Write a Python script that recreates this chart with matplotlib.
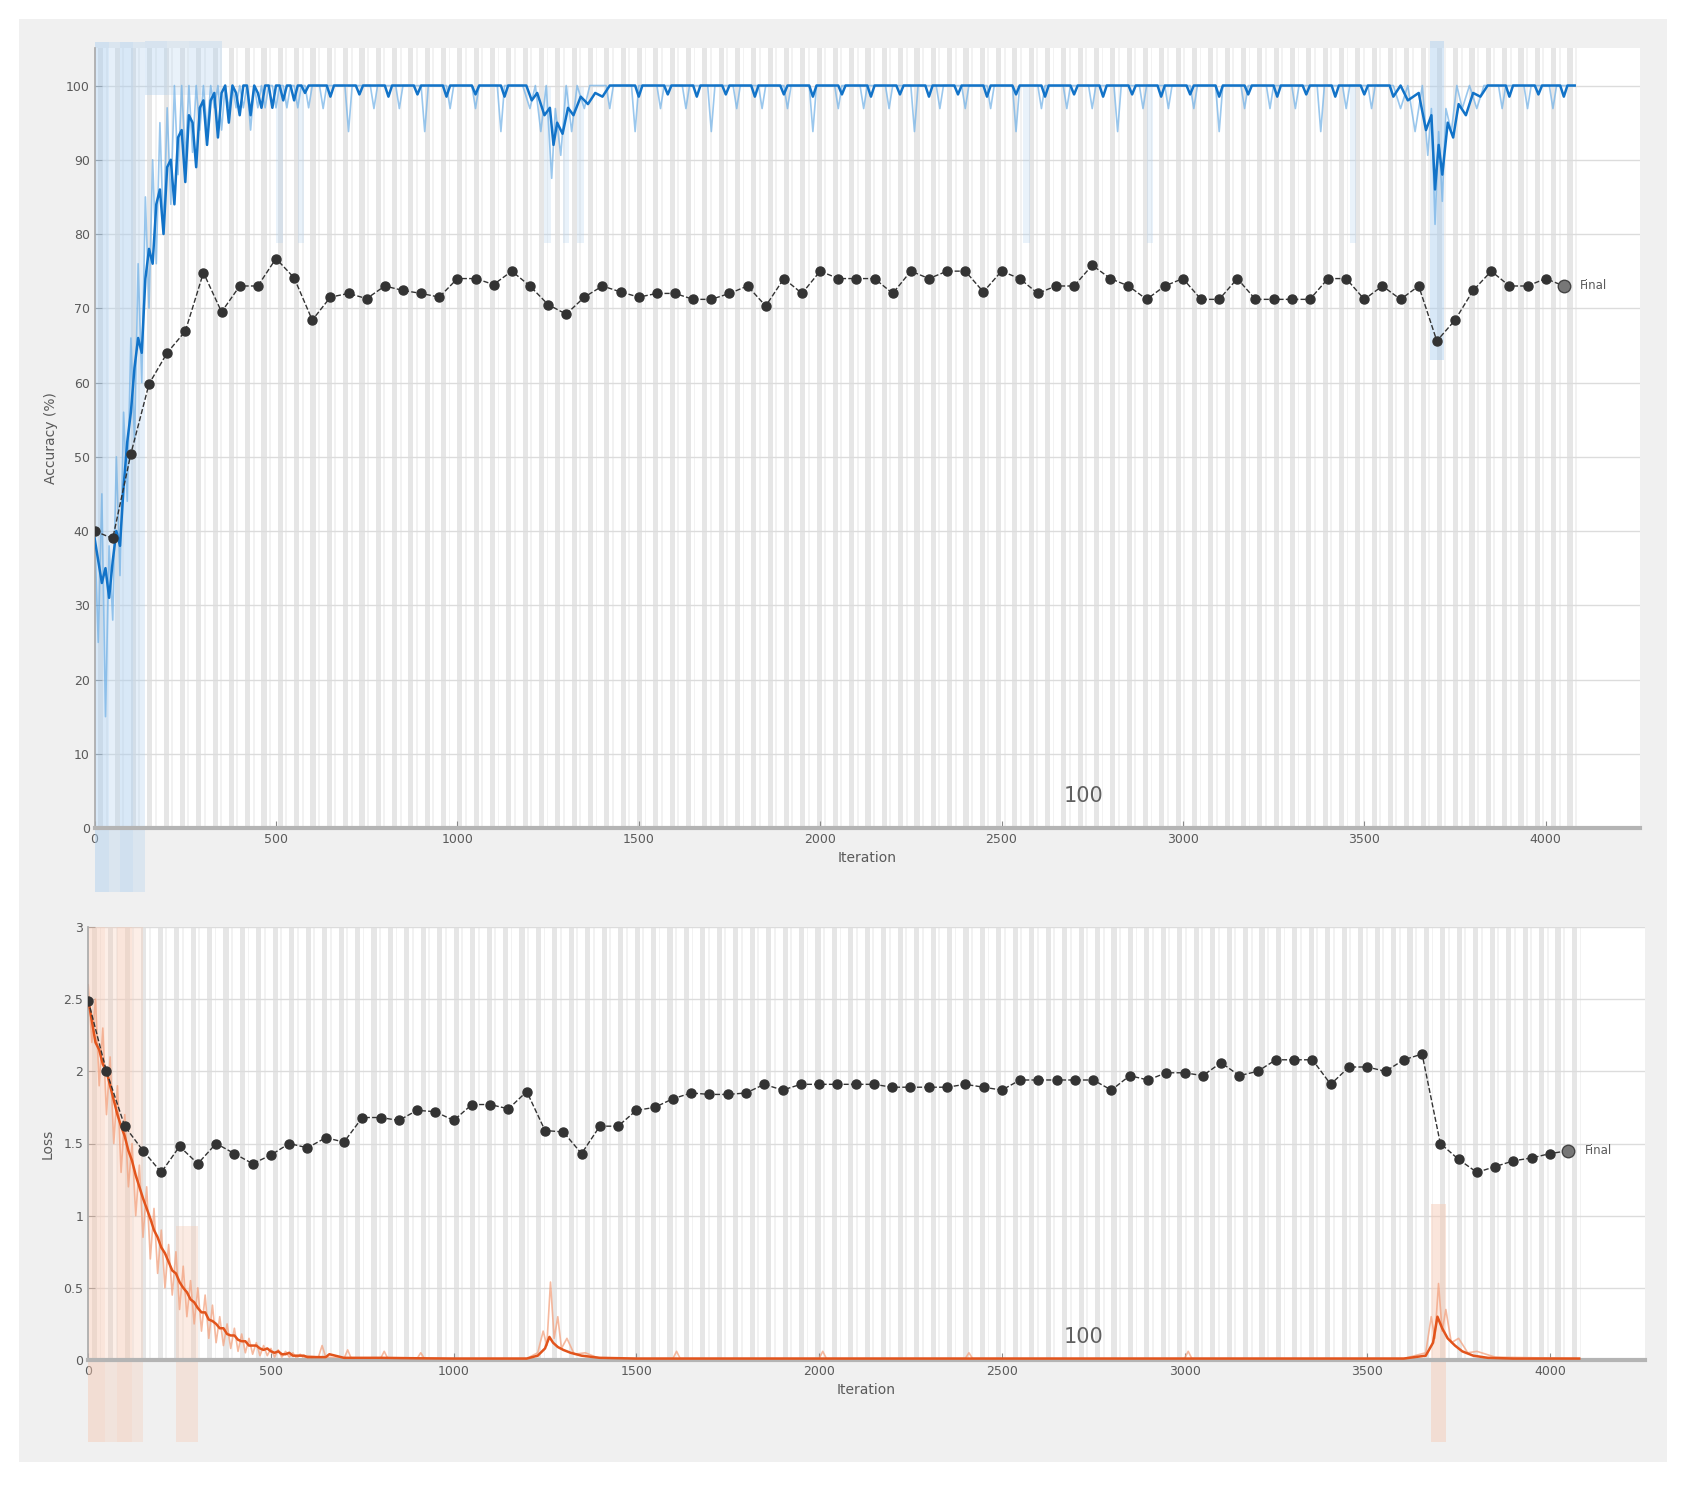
import numpy as np
import matplotlib
matplotlib.use("Agg")
import matplotlib.pyplot as plt
from matplotlib.patches import Rectangle
import matplotlib.transforms as mtransforms

# ---------------- data ----------------
val_step = 50
val_acc = [40, 39, 50.4, 59.8, 64, 66.9, 74.8, 69.5, 73, 73, 76.7, 74.1, 68.4, 71.5, 72, 71.3,
           73, 72.4, 72, 71.5, 74, 74, 73.2, 75, 73, 70.5, 69.2, 71.5, 73, 72.2, 71.5, 72,
           72, 71.2, 71.2, 72, 73, 70.3, 74, 72, 75, 74, 74, 74, 72, 75, 74, 75, 75, 72.2,
           75, 74, 72, 73, 73, 75.8, 74, 73, 71.2, 73, 74, 71.2, 71.2, 74, 71.2, 71.2, 71.2,
           71.2, 74, 74, 71.2, 73, 71.2, 73, 65.6, 68.4, 72.4, 75, 73, 73, 74, 73]
val_loss = [2.49, 2.0, 1.62, 1.45, 1.30, 1.48, 1.36, 1.50, 1.43, 1.36, 1.42, 1.50, 1.47, 1.54,
            1.51, 1.68, 1.68, 1.66, 1.73, 1.72, 1.66, 1.77, 1.77, 1.74, 1.86, 1.59, 1.58, 1.43,
            1.62, 1.62, 1.73, 1.75, 1.81, 1.85, 1.84, 1.84, 1.85, 1.91, 1.87, 1.91, 1.91, 1.91,
            1.91, 1.91, 1.89, 1.89, 1.89, 1.89, 1.91, 1.89, 1.87, 1.94, 1.94, 1.94, 1.94, 1.94,
            1.87, 1.97, 1.94, 1.99, 1.99, 1.97, 2.06, 1.97, 2.0, 2.08, 2.08, 2.08, 1.91, 2.03,
            2.03, 2.0, 2.08, 2.12, 1.50, 1.39, 1.30, 1.34, 1.38, 1.40, 1.43, 1.45]

# early training phase, sampled every 10 iterations (0..600)
early_step = 10
acc_smooth_early = [39, 36, 33, 35, 31, 36, 40, 38, 46, 52, 56, 62, 66, 64, 74, 78, 76, 84, 86, 80,
                    89, 90, 84, 93, 94, 87, 96, 95, 89, 97, 98, 92, 98, 99, 93, 99, 100, 95, 100, 99,
                    96, 100, 100, 96, 100, 99, 97, 100, 100, 97, 100, 100, 98, 100, 100, 98, 100, 100,
                    99, 100, 100]
acc_raw_early = [40, 25, 45, 15, 38, 28, 50, 34, 56, 44, 66, 52, 76, 60, 85, 70, 90, 76, 95, 80,
                 97, 84, 100, 88, 100, 90, 100, 91, 100, 94, 100, 94, 100, 97, 100, 94, 100, 97, 100, 97,
                 100, 97, 100, 94, 100, 97, 100, 97, 100, 100, 97, 100, 100, 97, 100, 100, 97, 100, 100,
                 97, 100]
loss_smooth_early = [2.5, 2.35, 2.2, 2.15, 2.05, 2.0, 1.9, 1.8, 1.7, 1.62, 1.55, 1.45, 1.38, 1.28,
                     1.2, 1.12, 1.05, 0.98, 0.9, 0.85, 0.78, 0.74, 0.68, 0.62, 0.6, 0.54, 0.5, 0.47,
                     0.42, 0.4, 0.36, 0.33, 0.33, 0.28, 0.27, 0.25, 0.22, 0.22, 0.18, 0.17, 0.17,
                     0.14, 0.13, 0.13, 0.1, 0.1, 0.1, 0.08, 0.07, 0.08, 0.06, 0.05, 0.06, 0.04, 0.04,
                     0.05, 0.03, 0.03, 0.03, 0.03, 0.02]
loss_raw_early = [2.6, 2.2, 2.5, 1.9, 2.3, 1.7, 2.1, 1.5, 1.9, 1.3, 1.7, 1.2, 1.5, 1.0, 1.35, 0.85,
                  1.2, 0.7, 1.05, 0.6, 0.9, 0.5, 0.8, 0.45, 0.75, 0.35, 0.65, 0.3, 0.55, 0.25, 0.5,
                  0.2, 0.45, 0.15, 0.38, 0.12, 0.3, 0.1, 0.25, 0.08, 0.22, 0.06, 0.18, 0.05, 0.15,
                  0.04, 0.12, 0.03, 0.1, 0.03, 0.08, 0.02, 0.07, 0.02, 0.06, 0.02, 0.05, 0.01, 0.04,
                  0.01, 0.03]

# later phase: (iteration, value) vertices of the curves
acc_smooth_late = [(640, 100), (650, 98.5), (660, 100), (720, 100), (730, 98.8), (740, 100),
                   (800, 100), (810, 98.5), (820, 100), (880, 100), (890, 98.8), (900, 100),
                   (960, 100), (970, 98.5), (980, 100), (1040, 100), (1050, 98.8), (1060, 100),
                   (1120, 100), (1130, 98.5), (1140, 100), (1190, 100), (1205, 98), (1220, 99),
                   (1240, 96), (1255, 97), (1265, 92), (1275, 95), (1290, 93.5), (1305, 97),
                   (1320, 96), (1340, 98.5), (1360, 97.5), (1380, 99), (1400, 98.5), (1420, 100),
                   (1490, 100), (1500, 98.5), (1510, 100), (1570, 100), (1580, 98.8), (1590, 100),
                   (1650, 100), (1660, 98.5), (1670, 100), (1730, 100), (1740, 98.8), (1750, 100),
                   (1810, 100), (1820, 98.5), (1830, 100), (1890, 100), (1900, 98.8), (1910, 100),
                   (1970, 100), (1980, 98.5), (1990, 100), (2050, 100), (2060, 98.8), (2070, 100),
                   (2130, 100), (2140, 98.5), (2150, 100), (2210, 100), (2220, 98.8), (2230, 100),
                   (2290, 100), (2300, 98.5), (2310, 100), (2370, 100), (2380, 98.8), (2390, 100),
                   (2450, 100), (2460, 98.5), (2470, 100), (2530, 100), (2540, 98.8), (2550, 100),
                   (2610, 100), (2620, 98.5), (2630, 100), (2690, 100), (2700, 98.8), (2710, 100),
                   (2770, 100), (2780, 98.5), (2790, 100), (2850, 100), (2860, 98.8), (2870, 100),
                   (2930, 100), (2940, 98.5), (2950, 100), (3010, 100), (3020, 98.8), (3030, 100),
                   (3090, 100), (3100, 98.5), (3110, 100), (3170, 100), (3180, 98.8), (3190, 100),
                   (3250, 100), (3260, 98.5), (3270, 100), (3330, 100), (3340, 98.8), (3350, 100),
                   (3410, 100), (3420, 98.5), (3430, 100), (3490, 100), (3500, 98.8), (3510, 100),
                   (3570, 100), (3580, 98.5), (3600, 100), (3620, 98), (3650, 99), (3670, 94),
                   (3685, 96), (3695, 86), (3705, 92), (3715, 88), (3730, 95), (3745, 93),
                   (3760, 97.5), (3780, 96), (3800, 99), (3820, 98.5), (3840, 100), (3890, 100),
                   (3900, 98.5), (3910, 100), (3970, 100), (3980, 98.8), (3990, 100), (4040, 100),
                   (4050, 98.5), (4060, 100), (4080, 100)]
acc_raw_late = [(620, 100), (630, 96.9), (640, 100), (690, 100), (700, 93.8), (710, 100),
                (760, 100), (770, 96.9), (780, 100), (830, 100), (840, 96.9), (850, 100),
                (900, 100), (910, 93.8), (920, 100), (970, 100), (980, 96.9), (990, 100),
                (1040, 100), (1050, 96.9), (1060, 100), (1110, 100), (1120, 93.8), (1130, 100),
                (1180, 100), (1200, 96.9), (1215, 100), (1230, 93.8), (1245, 100), (1260, 87.5),
                (1270, 96.9), (1285, 90.6), (1300, 100), (1315, 93.8), (1330, 100), (1350, 96.9),
                (1365, 100), (1410, 100), (1420, 96.9), (1430, 100), (1480, 100), (1490, 93.8),
                (1500, 100), (1550, 100), (1560, 96.9), (1570, 100), (1620, 100), (1630, 96.9),
                (1640, 100), (1690, 100), (1700, 93.8), (1710, 100), (1760, 100), (1770, 96.9),
                (1780, 100), (1830, 100), (1840, 96.9), (1850, 100), (1900, 100), (1910, 96.9),
                (1920, 100), (1970, 100), (1980, 93.8), (1990, 100), (2040, 100), (2050, 96.9),
                (2060, 100), (2110, 100), (2120, 96.9), (2130, 100), (2180, 100), (2190, 96.9),
                (2200, 100), (2250, 100), (2260, 93.8), (2270, 100), (2320, 100), (2330, 96.9),
                (2340, 100), (2390, 100), (2400, 96.9), (2410, 100), (2460, 100), (2470, 96.9),
                (2480, 100), (2530, 100), (2540, 93.8), (2550, 100), (2600, 100), (2610, 96.9),
                (2620, 100), (2670, 100), (2680, 96.9), (2690, 100), (2740, 100), (2750, 96.9),
                (2760, 100), (2810, 100), (2820, 93.8), (2830, 100), (2880, 100), (2890, 96.9),
                (2900, 100), (2950, 100), (2960, 96.9), (2970, 100), (3020, 100), (3030, 96.9),
                (3040, 100), (3090, 100), (3100, 93.8), (3110, 100), (3160, 100), (3170, 96.9),
                (3180, 100), (3230, 100), (3240, 96.9), (3250, 100), (3300, 100), (3310, 96.9),
                (3320, 100), (3370, 100), (3380, 93.8), (3390, 100), (3440, 100), (3450, 96.9),
                (3460, 100), (3510, 100), (3520, 96.9), (3530, 100), (3580, 100), (3600, 96.9),
                (3620, 100), (3640, 93.8), (3660, 100), (3675, 90.6), (3685, 96.9), (3695, 81.3),
                (3705, 93.8), (3715, 84.4), (3725, 96.9), (3740, 93.8), (3755, 100), (3770, 96.9),
                (3790, 100), (3810, 96.9), (3830, 100), (3870, 100), (3880, 96.9), (3890, 100),
                (3940, 100), (3950, 96.9), (3960, 100), (4010, 100), (4020, 96.9), (4030, 100),
                (4080, 100)]
loss_smooth_late = [(650, 0.02), (660, 0.04), (700, 0.015), (800, 0.015), (900, 0.012),
                    (1000, 0.01), (1200, 0.01), (1230, 0.03), (1250, 0.08), (1262, 0.16),
                    (1272, 0.12), (1285, 0.09), (1300, 0.07), (1320, 0.05), (1350, 0.03),
                    (1400, 0.015), (1500, 0.01), (3600, 0.01), (3660, 0.03), (3680, 0.12),
                    (3692, 0.3), (3705, 0.22), (3720, 0.15), (3740, 0.1), (3760, 0.06),
                    (3790, 0.03), (3830, 0.015), (3900, 0.01), (4080, 0.01)]
loss_raw_late = [(630, 0.02), (640, 0.1), (650, 0.02), (700, 0.01), (710, 0.07), (720, 0.01),
                 (800, 0.01), (810, 0.06), (820, 0.01), (900, 0.01), (910, 0.05), (920, 0.01),
                 (1200, 0.01), (1230, 0.05), (1245, 0.2), (1255, 0.1), (1265, 0.54), (1275, 0.15),
                 (1285, 0.3), (1295, 0.08), (1310, 0.15), (1330, 0.04), (1360, 0.05), (1400, 0.01),
                 (1600, 0.01), (1610, 0.06), (1620, 0.01), (2000, 0.01), (2010, 0.06), (2020, 0.01),
                 (2400, 0.01), (2410, 0.05), (2420, 0.01), (3000, 0.01), (3010, 0.06), (3020, 0.01),
                 (3600, 0.01), (3660, 0.05), (3675, 0.3), (3685, 0.15), (3695, 0.53), (3705, 0.2),
                 (3715, 0.35), (3730, 0.12), (3750, 0.15), (3775, 0.05), (3800, 0.06), (3850, 0.02),
                 (4080, 0.01)]

x_ticks = [0, 500, 1000, 1500, 2000, 2500, 3000, 3500, 4000]
acc_ticks = [0, 10, 20, 30, 40, 50, 60, 70, 80, 90, 100]
loss_ticks = [0, 0.5, 1, 1.5, 2, 2.5, 3]
loss_tick_labels = ["0", "0.5", "1", "1.5", "2", "2.5", "3"]
epoch_label = "100"
final_label = "Final"


def join(early, late):
    it = [i * early_step for i in range(len(early))] + [p[0] for p in late]
    v = list(early) + [p[1] for p in late]
    return it, v


# ---------------- styling ----------------
W, H = 1686, 1487
fig = plt.figure(figsize=(W / 100, H / 100), dpi=100)
fig.patch.set_facecolor("white")
fig.patches.append(Rectangle((19 / W, 1 - 1462 / H), (1667 - 19) / W, (1462 - 19) / H,
                             transform=fig.transFigure, facecolor="#f0f0f0", edgecolor="none",
                             zorder=-10))

BLUE = "#1273c8"
BLUE_RAW = "#6fb0e6"
ORANGE = "#e2541c"
ORANGE_RAW = "#f3a27f"
TXT = "#5a5a5a"

ax1 = fig.add_axes([94.6 / W, 1 - 828 / H, (1640 - 94.6) / W, (828 - 48.4) / H])
ax2 = fig.add_axes([88.2 / W, 1 - 1360 / H, (1645 - 88.2) / W, (1360 - 927) / H])

x_end = (len(val_acc) - 1) * val_step + 40

for ax in (ax1, ax2):
    ax.set_facecolor("white")
    for s in np.arange(0, x_end, 45):
        ax.axvspan(s + 10, s + 24, color="#e6e6e6", lw=0, zorder=0)
        ax.axvspan(s + 31, s + 36, color="#f2f2f2", lw=0, zorder=0)
    for sp in ("top", "right"):
        ax.spines[sp].set_visible(False)
    ax.spines["left"].set_color("#a8a8a8")
    ax.spines["bottom"].set_color("#b4b4b4")
    ax.spines["bottom"].set_linewidth(3)
    ax.spines["left"].set_linewidth(1.2)
    ax.tick_params(direction="in", colors="#8a8a8a", labelcolor=TXT, labelsize=9, length=5)
    ax.set_xticks(x_ticks)
    ax.set_xlim(0, 4260)
    ax.grid(axis="y", color="#dcdcdc", lw=1.0, zorder=0.5)
    ax.set_axisbelow(True)
    ax.set_xlabel("Iteration", color=TXT, fontsize=10, labelpad=4)

# translucent artefact bands extending beyond axes (striped)
tr1 = mtransforms.blended_transform_factory(ax1.transData, ax1.transAxes)
for x0, w, a in [(0, 40, 0.45), (40, 30, 0.3), (70, 35, 0.45), (105, 35, 0.3)]:
    ax1.add_patch(Rectangle((x0, -0.082), w, 1.09, transform=tr1, facecolor="#a9cdee",
                            edgecolor="none", alpha=a, clip_on=False, zorder=1))
for x0, w, a in [(140, 60, 0.35), (200, 60, 0.25), (260, 90, 0.3)]:
    ax1.add_patch(Rectangle((x0, 0.94), w, 0.07, transform=tr1, facecolor="#a9cdee",
                            edgecolor="none", alpha=a, clip_on=False, zorder=1))
ax1.add_patch(Rectangle((3680, 0.6), 40, 0.41, transform=tr1, facecolor="#a9cdee",
                        edgecolor="none", alpha=0.45, clip_on=False, zorder=1))
for x0 in [1240, 1290, 1330, 500, 560, 2560, 2900, 3460]:
    ax1.add_patch(Rectangle((x0, 0.75), 18, 0.2, transform=tr1, facecolor="#a9cdee",
                            edgecolor="none", alpha=0.25, zorder=1))
tr2 = mtransforms.blended_transform_factory(ax2.transData, ax2.transAxes)
for x0, w, a in [(0, 45, 0.45), (45, 35, 0.3), (80, 40, 0.45), (120, 30, 0.3)]:
    ax2.add_patch(Rectangle((x0, -0.19), w, 1.19, transform=tr2, facecolor="#f6c7b0",
                            edgecolor="none", alpha=a, clip_on=False, zorder=1))
ax2.add_patch(Rectangle((240, -0.19), 60, 0.5, transform=tr2, facecolor="#f6c7b0",
                        edgecolor="none", alpha=0.35, clip_on=False, zorder=1))
ax2.add_patch(Rectangle((3675, -0.19), 40, 0.55, transform=tr2, facecolor="#f6c7b0",
                        edgecolor="none", alpha=0.45, clip_on=False, zorder=1))

val_it = np.arange(len(val_acc)) * val_step

# ---------- accuracy ----------
x, y = join(acc_raw_early, acc_raw_late)
ax1.plot(x, y, color=BLUE_RAW, lw=1.2, alpha=0.7, zorder=2)
x, y = join(acc_smooth_early, acc_smooth_late)
ax1.plot(x, y, color=BLUE, lw=1.8, zorder=3)
ax1.plot(val_it, val_acc, ls="--", color="#333333", lw=1.0, marker="o", ms=6.5,
         mfc="#333333", mec="#333333", zorder=4)
ax1.plot(val_it[-1], val_acc[-1], marker="o", ms=9, mfc="#777777", mec="#444444", zorder=5)
ax1.text(val_it[-1] + 45, val_acc[-1], final_label, color=TXT, fontsize=8.5, va="center")
ax1.set_ylim(0, 105)
ax1.set_yticks(acc_ticks)
ax1.set_ylabel("Accuracy (%)", color=TXT, fontsize=10, labelpad=6)
ax1.text(2726, 4.3, epoch_label, color="#606060", fontsize=15, ha="center", va="center")

# ---------- loss ----------
x, y = join(loss_raw_early, loss_raw_late)
ax2.plot(x, y, color=ORANGE_RAW, lw=1.2, alpha=0.75, zorder=2)
x, y = join(loss_smooth_early, loss_smooth_late)
ax2.plot(x, y, color=ORANGE, lw=1.8, zorder=3)
ax2.plot(val_it, val_loss, ls="--", color="#333333", lw=1.0, marker="o", ms=6.5,
         mfc="#333333", mec="#333333", zorder=4)
ax2.plot(val_it[-1], val_loss[-1], marker="o", ms=9, mfc="#777777", mec="#444444", zorder=5)
ax2.text(val_it[-1] + 45, val_loss[-1], final_label, color=TXT, fontsize=8.5, va="center")
ax2.set_ylim(0, 3)
ax2.set_yticks(loss_ticks)
ax2.set_yticklabels(loss_tick_labels)
ax2.set_ylabel("Loss", color=TXT, fontsize=10, labelpad=6)
ax2.text(2723, 0.16, epoch_label, color="#606060", fontsize=15, ha="center", va="center")

fig.savefig("out.png", dpi=100, facecolor=fig.get_facecolor())
